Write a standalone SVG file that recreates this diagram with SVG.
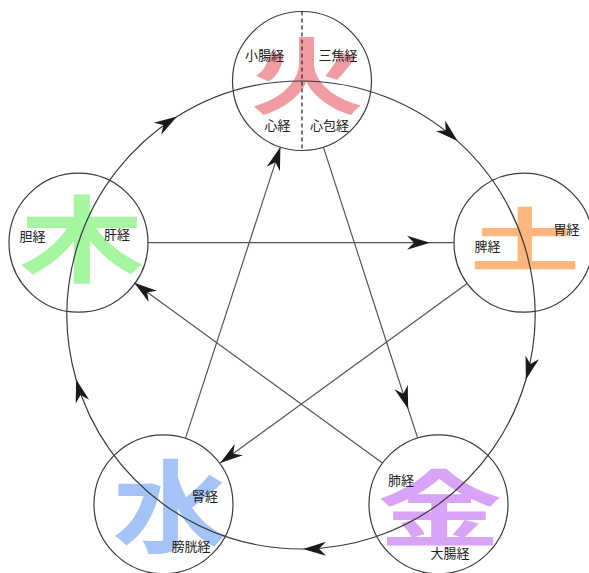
<svg xmlns="http://www.w3.org/2000/svg" width="589" height="573" viewBox="0 0 589 573">
<style>
.ring{fill:none;stroke:#3a3a3a;stroke-width:1.2}
.big{font-family:"Noto Sans CJK JP","Noto Sans CJK SC",sans-serif;font-weight:bold;font-size:96px;text-anchor:middle;dominant-baseline:central}
.lbl{font-family:"Noto Sans CJK JP","Noto Sans CJK SC",sans-serif;font-size:13px;fill:#222;text-anchor:middle;dominant-baseline:central}
.con{fill:none;stroke:#3a3a3a;stroke-width:1.2}
.star{fill:none;stroke:#555;stroke-width:1.2}
.mid{marker-mid:url(#ah)}
.end{marker-end:url(#ah)}
</style>
<defs>
<marker id="ah" markerUnits="userSpaceOnUse" markerWidth="24" markerHeight="16" refX="23" refY="8" orient="auto" overflow="visible">
<path d="M23,8 L0,1 L7,8 L0,15 Z" fill="#1a1a1a"/>
</marker>
</defs>
<rect width="589" height="573" fill="#fff"/>

<g id="fire">
<text class="big" transform="translate(307,70) scale(1.2,0.88)" fill="#f19ca3">火</text>
<circle class="ring" cx="302" cy="81" r="69.5"/>
<line x1="302" y1="11.5" x2="302" y2="150.5" stroke="#222" stroke-width="1.2" stroke-dasharray="4,3"/>
<text class="lbl" x="264.5" y="54">小腸経</text>
<text class="lbl" x="338" y="54">三焦経</text>
<text class="lbl" x="277.5" y="124">心経</text>
<text class="lbl" x="329.5" y="124">心包経</text>
</g>

<g id="earth">
<text class="big" transform="translate(525,236) scale(1.15,0.72)" fill="#ffb67c">土</text>
<circle class="ring" cx="523.5" cy="242.7" r="69.5"/>
<text class="lbl" x="487.5" y="245">脾経</text>
<text class="lbl" x="566.5" y="228">胃経</text>
</g>

<g id="metal">
<text class="big" transform="translate(440,504) scale(1.3,0.86)" fill="#d9a4f7">金</text>
<circle class="ring" cx="438.5" cy="504.3" r="69.5"/>
<text class="lbl" x="401" y="479">肺経</text>
<text class="lbl" x="450" y="552.5">大腸経</text>
</g>

<g id="water">
<text class="big" transform="translate(170,501) scale(1.2,1.05)" fill="#a4c4f8">水</text>
<circle class="ring" cx="163.5" cy="504.3" r="69.5"/>
<text class="lbl" x="205" y="495">腎経</text>
<text class="lbl" x="191" y="545">膀胱経</text>
</g>

<g id="wood">
<text class="big" transform="translate(82,234) scale(1.3,0.98)" fill="#a6f5a0">木</text>
<circle class="ring" cx="78.5" cy="242.7" r="69.5"/>
<text class="lbl" x="32.5" y="235">胆経</text>
<text class="lbl" x="117" y="233.5">肝経</text>
</g>

<g id="connectors">
<path class="con mid" d="M78.45,242.69 A234,234 0 0 1 177.0,116.6 A234,234 0 0 1 301,81"/>
<path class="con mid" d="M301,81 A234,234 0 0 1 457.6,141.1 A234,234 0 0 1 523.55,242.69"/>
<path class="con mid" d="M523.55,242.69 A234,234 0 0 1 525.9,379.5 A234,234 0 0 1 438.54,504.31"/>
<path class="con mid" d="M438.54,504.31 A234,234 0 0 1 303.0,549.0 A234,234 0 0 1 163.46,504.31"/>
<path class="con mid" d="M163.46,504.31 A234,234 0 0 1 76.1,379.5 A234,234 0 0 1 78.45,242.69"/>
<path class="star mid" d="M148,242.7 L430,242.7 L454,242.7"/>
<path class="star end" d="M467.8,282.9 L220.2,463.1"/>
<path class="star end" d="M185.6,437.9 L280.4,147.1"/>
<path class="star mid" d="M323.4,147.1 L408.2,409 L417.6,437.9"/>
<path class="star end" d="M382.8,463.2 L134.2,282.8"/>
</g>
</svg>
